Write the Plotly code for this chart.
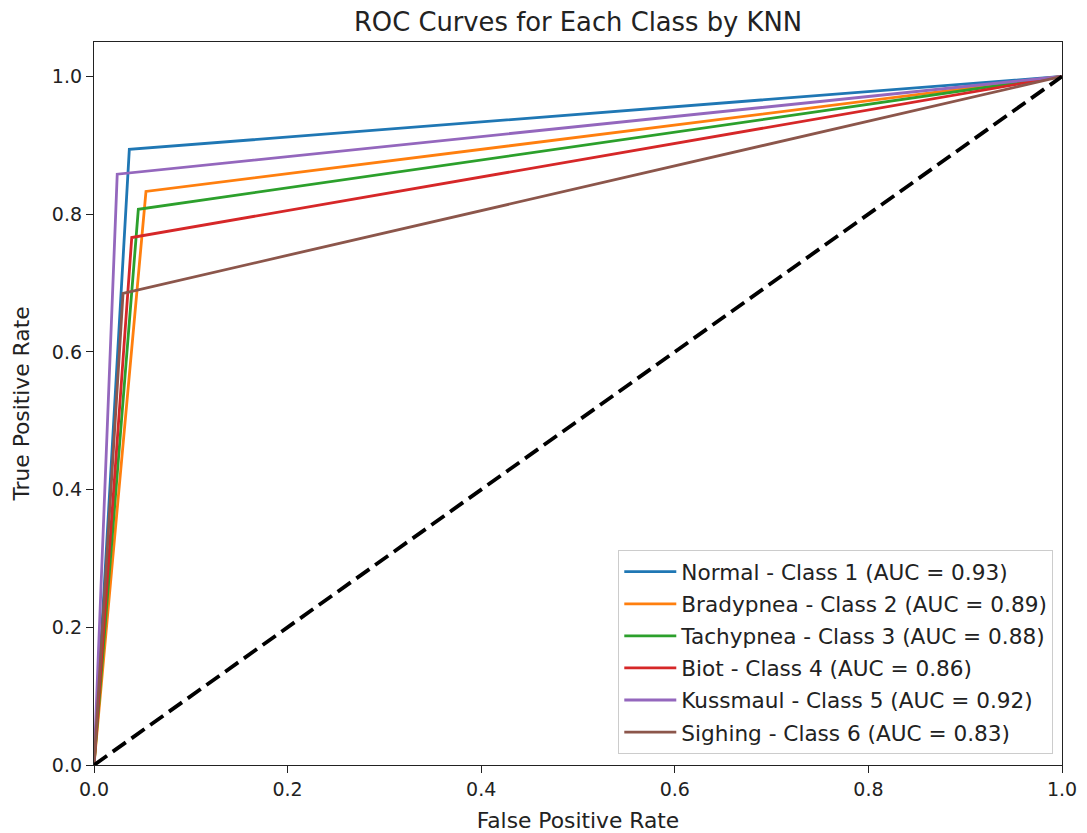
import plotly.graph_objects as go

class_names = ["Normal - Class 1", "Bradypnea - Class 2", "Tachypnea - Class 3",
               "Biot - Class 4", "Kussmaul - Class 5", "Sighing - Class 6"]
auc_values = [0.93, 0.89, 0.88, 0.86, 0.92, 0.83]
fpr_knee = [0.0365, 0.0537, 0.0458, 0.039, 0.024, 0.030]
tpr_knee = [0.894, 0.833, 0.807, 0.766, 0.858, 0.685]
colors = ["#1f77b4", "#ff7f0e", "#2ca02c", "#d62728", "#9467bd", "#8c564b"]

xticks = [0.0, 0.2, 0.4, 0.6, 0.8, 1.0]
yticks = [0.0, 0.2, 0.4, 0.6, 0.8, 1.0]

fig = go.Figure()
for i, name in enumerate(class_names):
    fig.add_trace(go.Scatter(
        x=[0.0, fpr_knee[i], 1.0], y=[0.0, tpr_knee[i], 1.0],
        mode="lines", line=dict(color=colors[i], width=2.8),
        name=f"{name} (AUC = {auc_values[i]:.2f})", legendgroup=f"g{i}"))

fig.add_trace(go.Scatter(x=[0, 1], y=[0, 1], mode="lines",
                         line=dict(color="black", width=3.8, dash="16px,7px"),
                         showlegend=False))

axis_common = dict(showline=True, linecolor="#222", linewidth=1.3, mirror=True,
                   ticks="outside", ticklen=7, tickcolor="#222", tickwidth=1.3,
                   showgrid=False, zeroline=False,
                   tickfont=dict(size=19, color="#222"))

fig.update_layout(
    width=1087, height=833,
    margin=dict(l=86, r=33, t=34, b=76),
    plot_bgcolor="white", paper_bgcolor="white",
    font=dict(family="DejaVu Sans", color="#222"),
    title=dict(text="ROC Curves for Each Class by KNN", x=0.5, xanchor="center",
               xref="paper", y=1 - 14 / 833, yanchor="middle",
               font=dict(size=25.8, color="#222")),
    xaxis=dict(range=[0, 1], tickvals=xticks, ticktext=[f"{v:.1f}" for v in xticks],
               title=dict(text="False Positive Rate", font=dict(size=21.8), standoff=13),
               **axis_common),
    yaxis=dict(range=[0, 1.05], tickvals=yticks, ticktext=[f"{v:.1f}" for v in yticks],
               title=dict(text="True Positive Rate", font=dict(size=21.8), standoff=16),
               **axis_common),
    legend=dict(x=0.991, y=0.015, xanchor="right", yanchor="bottom",
                bgcolor="rgba(255,255,255,0.8)", bordercolor="#cccccc", borderwidth=1,
                font=dict(size=21.6, color="#222"), tracegroupgap=1,
                itemwidth=52),
)

fig.write_html("out.html")
